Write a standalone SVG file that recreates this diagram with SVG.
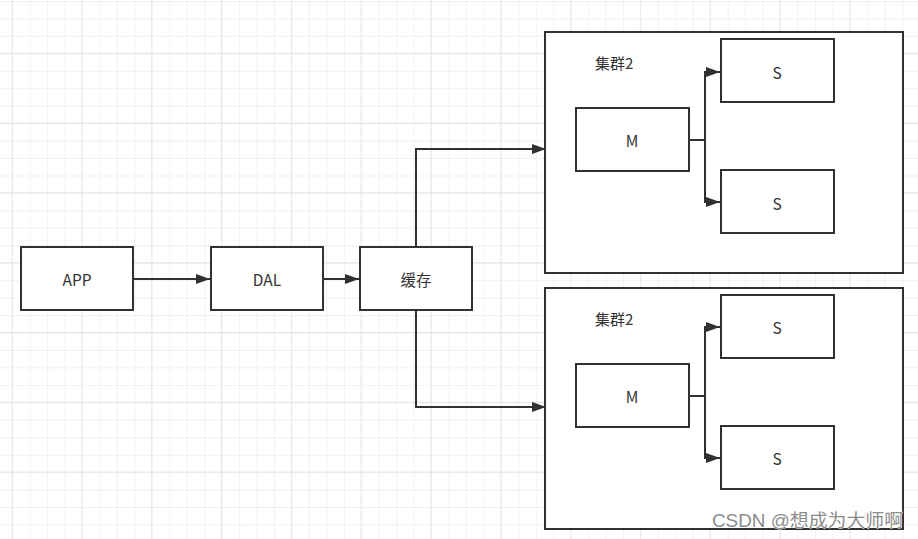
<svg xmlns="http://www.w3.org/2000/svg" width="918" height="539" viewBox="0 0 918 539">
<defs>
<pattern id="minor" x="12.2" y="1" width="17.45" height="17.45" patternUnits="userSpaceOnUse">
<path d="M0 0V17.45M0 0H17.45" fill="none" stroke="#ebebeb" stroke-width="1.3"/>
</pattern>
<pattern id="major" x="11.6" y="-17" width="69.8" height="69.8" patternUnits="userSpaceOnUse">
<path d="M0 0V69.8M0 0H69.8" fill="none" stroke="#e0e0e0" stroke-width="1.3"/>
</pattern>
<marker id="arr" viewBox="0 0 14 10" refX="14" refY="5" markerWidth="14" markerHeight="10" markerUnits="userSpaceOnUse" orient="auto">
<path d="M0 0L14 5L0 10Z" fill="#2f3133"/>
</marker>
<style>
.box{fill:#fff;stroke:#2f3133;stroke-width:2}
.grp{fill:#fff;stroke:#2f3133;stroke-width:2}
.lbl{font-family:"Noto Sans CJK SC","Liberation Sans",sans-serif;font-size:15.5px;fill:#333;text-anchor:middle;dominant-baseline:central}
.ttl{font-family:"Noto Sans CJK SC","Liberation Sans",sans-serif;font-size:15px;fill:#333}
.con{fill:none;stroke:#2f3133;stroke-width:2}
.wm{font-family:"Liberation Sans","Noto Sans CJK SC",sans-serif;font-size:18px;fill:#8c8c8c;stroke:#fff;stroke-width:0.6;paint-order:stroke}
</style>
</defs>
<rect width="918" height="539" fill="#fff"/>
<rect width="918" height="539" fill="url(#minor)"/>
<rect width="918" height="539" fill="url(#major)"/>

<g id="cluster1">
<rect class="grp" x="545" y="32" width="358" height="241"/>
<text class="ttl" x="595" y="69">集群2</text>
</g>
<g id="cluster2">
<rect class="grp" x="545" y="288" width="358" height="241"/>
<text class="ttl" x="595" y="325">集群2</text>
</g>

<g id="app"><rect class="box" x="21" y="247" width="112" height="63"/><text class="lbl" x="77" y="279">APP</text></g>
<g id="dal"><rect class="box" x="211" y="247" width="112" height="63"/><text class="lbl" x="267" y="279">DAL</text></g>
<g id="cache"><rect class="box" x="360" y="247" width="112" height="63"/><text class="lbl" x="416" y="279">缓存</text></g>

<g id="m1"><rect class="box" x="576" y="108" width="113" height="63"/><text class="lbl" x="632" y="140">M</text></g>
<g id="s1a"><rect class="box" x="721" y="39" width="113" height="63"/><text class="lbl" x="777" y="72">S</text></g>
<g id="s1b"><rect class="box" x="721" y="170" width="113" height="63"/><text class="lbl" x="777" y="203">S</text></g>

<g id="m2"><rect class="box" x="576" y="364" width="113" height="63"/><text class="lbl" x="632" y="396">M</text></g>
<g id="s2a"><rect class="box" x="721" y="295" width="113" height="63"/><text class="lbl" x="777" y="327">S</text></g>
<g id="s2b"><rect class="box" x="721" y="426" width="113" height="63"/><text class="lbl" x="777" y="458">S</text></g>

<g id="connectors">
<path class="con" d="M133 279H210" marker-end="url(#arr)"/>
<path class="con" d="M323 279H359" marker-end="url(#arr)"/>
<path class="con" d="M416 247V149H546" marker-end="url(#arr)"/>
<path class="con" d="M416 310V407H546" marker-end="url(#arr)"/>
<path class="con" d="M689 140H705V72H720" marker-end="url(#arr)"/>
<path class="con" d="M705 140V202H720" marker-end="url(#arr)"/>
<path class="con" d="M689 396H705V327H720" marker-end="url(#arr)"/>
<path class="con" d="M705 396V458H720" marker-end="url(#arr)"/>
</g>

<text class="wm" x="712" y="527" textLength="191" lengthAdjust="spacingAndGlyphs">CSDN @想成为大师啊</text>
</svg>
